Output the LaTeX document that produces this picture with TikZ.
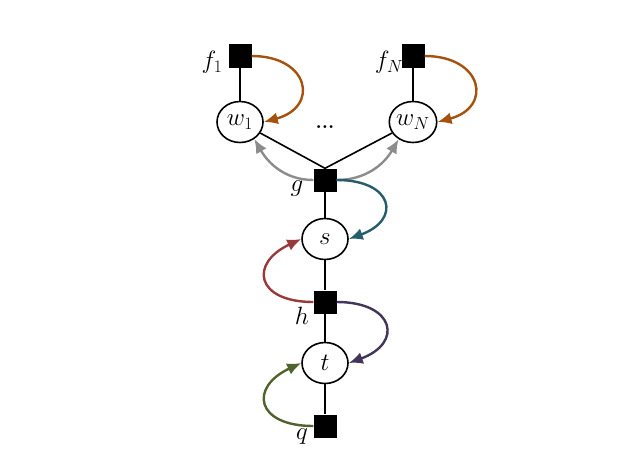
\RequirePackage{fix-cm}
\documentclass[tikz,border=0pt]{standalone}
\usetikzlibrary{shapes.geometric,arrows.meta}

\definecolor{oransje}{RGB}{164,82,14}
\definecolor{graa}{RGB}{140,140,140}
\definecolor{blaagroenn}{RGB}{36,94,106}
\definecolor{roed}{RGB}{152,58,58}
\definecolor{lilla}{RGB}{66,52,90}
\definecolor{oliven}{RGB}{82,98,46}

\begin{document}
\begin{tikzpicture}
   [
    x=1pt, y=1pt,
    every node/.style={font=\fontsize{25}{30}\selectfont},
    faktor/.style={rectangle, fill=black, minimum size=23pt, inner sep=0pt},
    variabel/.style={ellipse, draw=black, line width=1.6pt, fill=white,
                     minimum width=46pt, minimum height=41pt, inner sep=0pt},
    kant/.style={line width=1.6pt},
    pil/.style={line width=2.4pt, -{Latex[length=14pt,width=12pt]}}
   ]

\useasboundingbox (0,0) rectangle (628,-460);

% faktorer og variabler
\node[faktor] (f1) at (240,-56) {};
\node[faktor] (fN) at (413,-56) {};
\node[variabel] (w1) at (240,-122) {$w_1$};
\node[variabel] (wN) at (413,-122) {$w_N$};
\node[font=\fontsize{20}{24}\selectfont\bfseries] (prikker) at (325,-127) {...};
\node[faktor] (g) at (325,-180) {};
\node[variabel] (s) at (325,-239) {$s$};
\node[faktor] (h) at (325,-302) {};
\node[variabel] (t) at (325,-363) {$t$};
\node[faktor] (q) at (325,-426) {};

% merkelapper
\node (lf1) at (212,-62) {$f_1$};
\node (lfN) at (389,-62) {$f_N$};
\node (lg) at (297,-189) {$g$};
\node (lh) at (302,-316) {$h$};
\node (lq) at (302,-437) {$q$};

% kanter
\draw[kant] (f1) -- (w1);
\draw[kant] (fN) -- (wN);
\draw[kant] (w1) -- (g.north);
\draw[kant] (wN) -- (g.north);
\draw[kant] (g) -- (s);
\draw[kant] (s) -- (h);
\draw[kant] (h) -- (t);
\draw[kant] (t) -- (q);

% meldinger
\draw[pil, oransje] (f1.east) to[out=0, in=15, looseness=2.2] (w1.east);
\draw[pil, oransje] (fN.east) to[out=0, in=15, looseness=2.2] (wN.east);
\draw[pil, graa] (g.west) to[out=180, in=-60] (w1.-50);
\draw[pil, graa] (g.east) to[out=0, in=-120] (wN.-130);
\draw[pil, blaagroenn] (g.east) to[out=0, in=20, looseness=2.4] (s.east);
\draw[pil, roed] (h.west) to[out=180, in=205, looseness=2.3] (s.west);
\draw[pil, lilla] (h.east) to[out=0, in=20, looseness=2.4] (t.east);
\draw[pil, oliven] (q.west) to[out=180, in=205, looseness=2.3] (t.west);

\end{tikzpicture}
\end{document}
